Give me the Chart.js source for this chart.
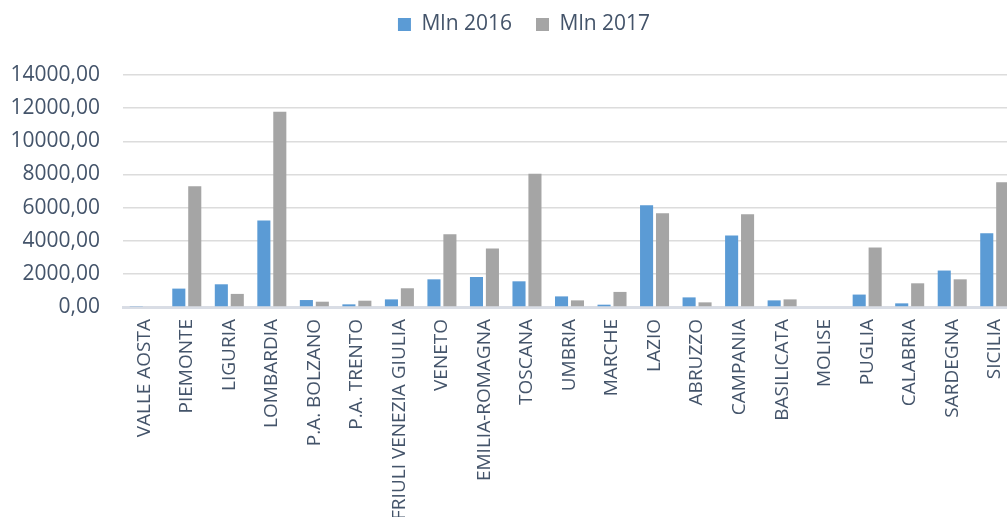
<!DOCTYPE html>
<html>
<head>
<meta charset="utf-8">
<script src="https://cdn.jsdelivr.net/npm/chart.js@4"></script>
<style>
  html, body { margin: 0; padding: 0; background: #fff; overflow: hidden; }
  #box { width: 1048px; height: 517px; }
</style>
</head>
<body>
<div id="box"><canvas id="grafico"></canvas></div>
<script>
// Dati per regione (milioni)
var regioni = ['VALLE AOSTA', 'PIEMONTE', 'LIGURIA', 'LOMBARDIA', 'P.A. BOLZANO', 'P.A. TRENTO',
    'FRIULI VENEZIA GIULIA', 'VENETO', 'EMILIA-ROMAGNA', 'TOSCANA', 'UMBRIA', 'MARCHE', 'LAZIO',
    'ABRUZZO', 'CAMPANIA', 'BASILICATA', 'MOLISE', 'PUGLIA', 'CALABRIA', 'SARDEGNA', 'SICILIA'];
var mln2016 = [30, 1110, 1370, 5220, 420, 160, 460, 1670, 1810, 1550, 640, 140, 6140, 580, 4310, 400, 0, 750, 220, 2200, 4450];
var mln2017 = [0, 7290, 790, 11780, 320, 380, 1130, 4390, 3530, 8040, 400, 910, 5660, 280, 5600, 460, 0, 3590, 1430, 1670, 7530];
var tickY = [0, 2000, 4000, 6000, 8000, 10000, 12000, 14000];

var coloreTesto = '#44546a';
var font = "'Open Sans', sans-serif";

// legenda più in alto e più spazio sotto
var spazioLegenda = {
    id: 'spazioLegenda',
    beforeInit: function (chart) {
        var fitOrig = chart.legend.fit;
        chart.legend.fit = function () {
            fitOrig.call(this);
            this.height += 20;
        };
    },
    afterLayout: function (chart) {
        chart.legend.top -= 10;
    }
};

new Chart(document.getElementById('grafico').getContext('2d'), {
    type: 'bar',
    data: {
        labels: regioni,
        datasets: [
            { label: 'Mln 2016', data: mln2016, backgroundColor: '#5b9bd5' },
            { label: 'Mln 2017', data: mln2017, backgroundColor: '#a5a5a5' }
        ]
    },
    plugins: [spazioLegenda],
    options: {
        responsive: true,
        maintainAspectRatio: false,
        animation: false,
        categoryPercentage: 0.75,
        barPercentage: 0.82,
        layout: { padding: 0 },
        plugins: {
            legend: {
                position: 'top',
                labels: {
                    boxWidth: 13,
                    boxHeight: 13,
                    padding: 24,
                    color: coloreTesto,
                    font: { family: font, size: 21 }
                }
            },
            tooltip: { enabled: false }
        },
        scales: {
            x: {
                grid: { display: false, drawTicks: false },
                border: { display: true, color: '#d9dde5', width: 3 },
                ticks: {
                    autoSkip: false,
                    maxRotation: 90,
                    minRotation: 90,
                    padding: 12,
                    color: coloreTesto,
                    font: { family: font, size: 19 }
                },
                afterFit: function (scale) {
                    scale.height = 210;
                    scale.paddingRight = 32;
                }
            },
            y: {
                min: 0,
                max: 14000,
                afterBuildTicks: function (scale) {
                    scale.ticks = tickY.map(function (v) { return { value: v }; });
                },
                afterFit: function (scale) { scale.width = 123; },
                grid: { color: '#dcdcdc', lineWidth: 1.5, drawTicks: false },
                border: { display: false },
                ticks: {
                    padding: 23,
                    color: coloreTesto,
                    font: { family: font, size: 21 },
                    callback: function (v) { return v.toFixed(2).replace('.', ','); }
                }
            }
        }
    }
});
</script>
</body>
</html>
